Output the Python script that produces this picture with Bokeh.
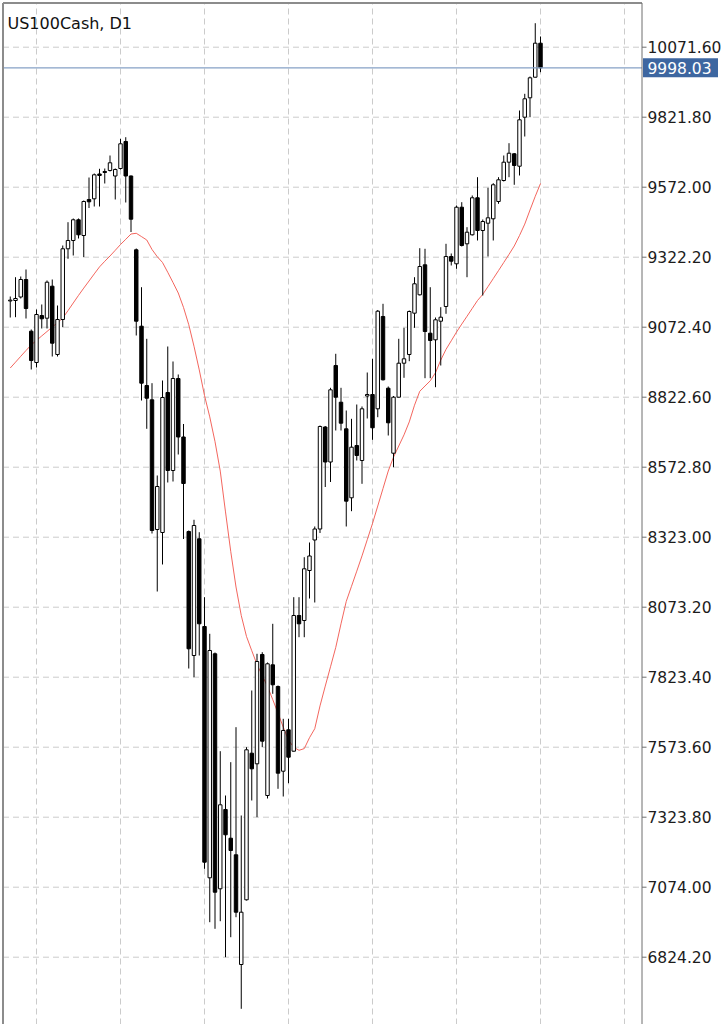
from bokeh.plotting import figure
from bokeh.models import Range1d, Label, ColumnDataSource
from bokeh.core.properties import value
from bokeh.embed import file_html
from bokeh.resources import INLINE

symbol = "US100Cash, D1"
last_price = 9998.03

opens = [9166.0, 9167.7, 9180.2, 9242.6, 9058.1, 8946.4, 9114.1, 9104.5, 9218.7, 8975.0,
         9099.9, 9352.2, 9381.8, 9455.7, 9399.6, 9528.1, 9530.6, 9619.1, 9628.0, 9631.6,
         9612.0, 9638.7, 9735.1, 9612.0, 9348.6, 9076.0, 8864.3, 8813.3, 8350.5, 8339.8,
         8839.4, 8561.0, 8889.3, 8680.6, 8343.3, 7900.8, 8317.3, 8004.3, 7107.5, 7906.9,
         7068.3, 7351.3, 7248.8, 7189.6, 6798.1, 7029.0, 7552.2, 7514.3, 7904.4, 7401.2,
         7867.6, 7790.2, 7487.9, 7635.7, 7559.3, 8043.6, 8025.7, 8204.1, 8313.0, 8352.2,
         8716.2, 8591.3, 8935.7, 8804.7, 8709.8, 8463.6, 8650.2, 8596.7, 8826.9, 8832.2,
         8781.2, 9110.6, 8854.7, 8622.7, 8822.6, 8943.9, 8975.0, 9122.4, 9188.0, 9295.1,
         9051.0, 9027.4, 9093.8, 9146.3, 9324.7, 9298.6, 9500.6, 9370.0, 9402.1, 9534.2,
         9417.5, 9443.5, 9459.2, 9521.0, 9595.9, 9661.2, 9691.2, 9646.9, 9821.8, 9891.0,
         9964.5, 10085.9]

highs = [9181.9, 9250.8, 9253.3, 9278.3, 9064.2, 9135.5, 9153.4, 9239.1, 9242.6, 9149.8,
         9363.9, 9447.1, 9460.3, 9460.3, 9524.5, 9606.6, 9620.9, 9637.7, 9638.7, 9685.1,
         9638.7, 9744.7, 9750.4, 9613.8, 9353.2, 9215.1, 9031.0, 8872.6, 8543.2, 8882.2,
         9003.5, 8950.0, 8903.6, 8727.0, 8346.9, 8385.1, 8340.8, 8108.9, 7978.3, 7911.5,
         7559.3, 7401.2, 7520.1, 7645.0, 7329.8, 7573.6, 7775.9, 7906.9, 7912.6, 7875.8,
         8013.9, 7793.8, 7674.9, 7674.9, 8108.9, 8108.9, 8251.6, 8304.1, 8361.2, 8721.6,
         8719.8, 8856.1, 8977.5, 8856.1, 8775.1, 8745.5, 8796.5, 8789.4, 8910.7, 8959.6,
         9133.8, 9155.9, 8860.8, 8826.9, 9031.0, 9070.2, 9132.0, 9250.8, 9354.3, 9352.2,
         9215.1, 9107.0, 9143.8, 9370.0, 9335.4, 9506.7, 9518.5, 9429.3, 9542.4, 9607.7,
         9456.7, 9569.9, 9586.3, 9607.7, 9685.1, 9729.0, 9694.0, 9845.7, 9905.3, 9967.0,
         10157.2, 10109.8]

lows = [9107.0, 9108.1, 9174.8, 9103.4, 8921.4, 8928.6, 9067.8, 9067.8, 8967.8, 8967.8,
        9072.4, 9316.5, 9328.3, 9388.9, 9322.9, 9497.8, 9503.1, 9503.1, 9585.2, 9628.0,
        9528.1, 9635.2, 9517.4, 9412.1, 9042.8, 8810.8, 8709.8, 8336.2, 8129.2, 8225.6,
        8518.2, 8521.7, 8618.1, 8316.6, 7854.4, 7823.4, 7900.8, 7139.6, 6949.1, 6925.5,
        6952.6, 6824.2, 6895.5, 6966.9, 6640.0, 7026.5, 7383.4, 7323.8, 7573.6, 7390.5,
        7764.1, 7425.1, 7397.6, 7445.1, 7558.2, 7966.1, 7966.1, 8104.2, 8090.0, 8338.0,
        8502.1, 8520.0, 8703.8, 8703.8, 8361.2, 8415.8, 8596.7, 8513.5, 8746.6, 8670.6,
        8751.2, 8882.2, 8685.9, 8572.8, 8821.5, 8891.8, 8951.1, 9070.2, 9185.5, 8890.4,
        8890.4, 8858.3, 8935.7, 9120.2, 9292.6, 9280.8, 9360.4, 9250.8, 9399.6, 9381.8,
        9185.5, 9324.7, 9381.8, 9512.8, 9592.3, 9607.7, 9580.6, 9613.8, 9752.9, 9821.8,
        9963.5, 9982.4]

closes = [9169.0, 9174.8, 9242.6, 9139.1, 8953.6, 9117.7, 9102.4, 9233.0, 9015.3, 9099.9,
          9352.2, 9381.8, 9455.7, 9402.1, 9521.0, 9519.9, 9616.2, 9613.8, 9624.5, 9659.1,
          9635.2, 9726.9, 9612.0, 9457.8, 9093.8, 8872.6, 8819.0, 8346.9, 8503.9, 8821.5,
          8561.0, 8889.3, 8680.6, 8514.6, 7924.7, 8364.7, 8013.9, 7163.2, 7918.7, 7056.1,
          7368.0, 7261.0, 7204.9, 6984.8, 6984.8, 7564.3, 7496.5, 7879.4, 7595.0, 7871.2,
          7796.3, 7480.8, 7633.2, 7537.9, 8043.6, 8013.9, 8210.2, 8255.9, 8352.2, 8718.0,
          8591.3, 8849.0, 8822.6, 8729.8, 8451.5, 8644.2, 8614.5, 8781.2, 8832.2, 8713.4,
          9129.5, 8884.7, 8731.2, 8822.6, 8943.9, 8959.6, 9128.4, 9227.3, 9289.0, 9057.0,
          9024.9, 9098.8, 9108.1, 9324.7, 9307.9, 9500.6, 9363.9, 9411.4, 9534.2, 9417.5,
          9449.6, 9462.8, 9580.6, 9598.4, 9661.2, 9693.3, 9649.4, 9812.5, 9887.5, 9962.4,
          10085.9, 9998.0]

ma = [8926.8, 8947.5, 8968.5, 8989.2, 9009.2, 9025.3, 9041.3, 9057.0, 9073.1, 9088.4,
      9104.9, 9131.6, 9158.8, 9185.9, 9211.9, 9237.2, 9262.6, 9287.6, 9307.6, 9326.5,
      9346.8, 9367.5, 9386.1, 9405.0, 9407.5, 9395.7, 9383.6, 9349.7, 9324.0, 9303.3,
      9268.3, 9231.9, 9194.4, 9143.0, 9081.3, 9004.2, 8920.0, 8828.7, 8752.3, 8664.1,
      8558.9, 8413.3, 8271.6, 8145.3, 8043.6, 7968.6, 7918.0, 7868.7, 7829.4, 7790.6,
      7743.4, 7694.9, 7645.0, 7598.9, 7573.2, 7562.5, 7568.6, 7607.5, 7639.6, 7721.0,
      7791.6, 7860.5, 7929.7, 8013.9, 8093.9, 8147.8, 8201.7, 8256.3, 8314.1, 8371.9,
      8434.3, 8496.8, 8559.2, 8608.8, 8648.4, 8688.1, 8734.4, 8794.0, 8843.6, 8862.6,
      8881.1, 8910.0, 8955.0, 8993.2, 9023.9, 9054.9, 9083.5, 9111.3, 9139.5, 9167.7,
      9189.4, 9217.3, 9245.8, 9274.4, 9303.3, 9332.2, 9362.2, 9399.6, 9440.3, 9490.6,
      9539.5, 9585.2]

price_ticks = [6824.2, 7074.0, 7323.8, 7573.6, 7823.4, 8073.2, 8323.0, 8572.8,
               8822.6, 9072.4, 9322.2, 9572.0, 9821.8, 10071.6]
bars_per_vgrid = 16
first_vgrid_bar = 5

# ---- layout (pixel geometry of the chart window) ----
W, H = 725, 1024
BAR_PX = 5.25          # horizontal pixels per bar
BAR0_PX = 9.75         # pixel x of bar 0
PRICE_PER_PX = 3.5686  # vertical scale
PRICE_AT_TOP = 10238.25
LEFT_PX, TOP_PX, AXIS_PX = 2.5, 2.5, 641.5


def xi(px):
    return (px - BAR0_PX) / BAR_PX


def yp(py):
    return PRICE_AT_TOP - PRICE_PER_PX * py


FONT = "DejaVu Sans"

n = len(closes)
idx = list(range(n))
bull = [c >= o for o, c in zip(opens, closes)]
src = ColumnDataSource(dict(
    x=idx, o=opens, h=highs, l=lows, c=closes,
    top=[max(o, c) for o, c in zip(opens, closes)],
    bottom=[min(o, c) for o, c in zip(opens, closes)],
    fill=["white" if b else "black" for b in bull],
))

p = figure(width=W, height=H, output_backend="svg", toolbar_location=None,
           x_range=Range1d(xi(0), xi(W)), y_range=Range1d(yp(H), yp(0)),
           x_axis_location=None, y_axis_location=None,
           min_border_left=0, min_border_top=0, min_border_bottom=0, min_border_right=0)
p.background_fill_color = "white"
p.border_fill_color = "white"
p.outline_line_color = None
p.grid.visible = False

# dashed grid (inside the chart area only)
vgrid = list(range(first_vgrid_bar, int(xi(AXIS_PX)) + 1, bars_per_vgrid))
p.segment(x0=vgrid, x1=vgrid, y0=[yp(H)] * len(vgrid), y1=[yp(TOP_PX)] * len(vgrid),
          line_color="#cbcbcb", line_width=1, line_dash="6 4")
p.segment(x0=[xi(LEFT_PX)] * len(price_ticks), x1=[xi(AXIS_PX)] * len(price_ticks),
          y0=price_ticks, y1=price_ticks, line_color="#cbcbcb", line_width=1, line_dash="6 4")

# moving average
p.line(idx, ma, line_color="#f2554c", line_width=1, line_alpha=0.9)

# candles
p.segment(x0="x", y0="l", x1="x", y1="h", source=src, line_color="black", line_width=1)
p.vbar(x="x", width=0.66, top="top", bottom="bottom", source=src,
       fill_color="fill", line_color="black", line_width=1)

# current price line
p.segment(x0=[xi(LEFT_PX)], x1=[xi(AXIS_PX)], y0=[last_price], y1=[last_price],
          line_color="#86a1c6", line_width=1.2)

# frame borders and right price axis
p.segment(x0=[xi(LEFT_PX), xi(LEFT_PX), xi(AXIS_PX)],
          x1=[xi(LEFT_PX), xi(AXIS_PX), xi(AXIS_PX)],
          y0=[yp(H), yp(TOP_PX), yp(H)],
          y1=[yp(TOP_PX), yp(TOP_PX), yp(TOP_PX)],
          line_color=["#8c8c8c", "#8c8c8c", "#6e6e6e"], line_width=[2, 2, 1])
p.segment(x0=[xi(AXIS_PX)] * len(price_ticks), x1=[xi(646)] * len(price_ticks),
          y0=price_ticks, y1=price_ticks, line_color="#6e6e6e", line_width=1)
p.text(x=[xi(647)] * len(price_ticks), y=price_ticks,
       text=[f"{t:.2f}" for t in price_ticks],
       text_font=value(FONT), text_font_size=value("15.5px"), text_color="#1c1c1c",
       text_align="left", text_baseline="middle")

# current price tag
p.rect(x=[xi(680)], y=[last_price], width=75, height=19,
       width_units="screen", height_units="screen",
       fill_color="#3d66a0", line_color=None)
p.text(x=[xi(647)], y=[last_price], text=[f"{last_price:.2f}"],
       text_font=value(FONT), text_font_size=value("15.5px"), text_color="white",
       text_align="left", text_baseline="middle")

# symbol title
p.add_layout(Label(x=xi(7), y=yp(22.7), text=symbol, text_color="#111111",
                   text_font=FONT, text_font_size="16px", text_baseline="alphabetic"))

open("out.html", "w").write(file_html(p, INLINE))
